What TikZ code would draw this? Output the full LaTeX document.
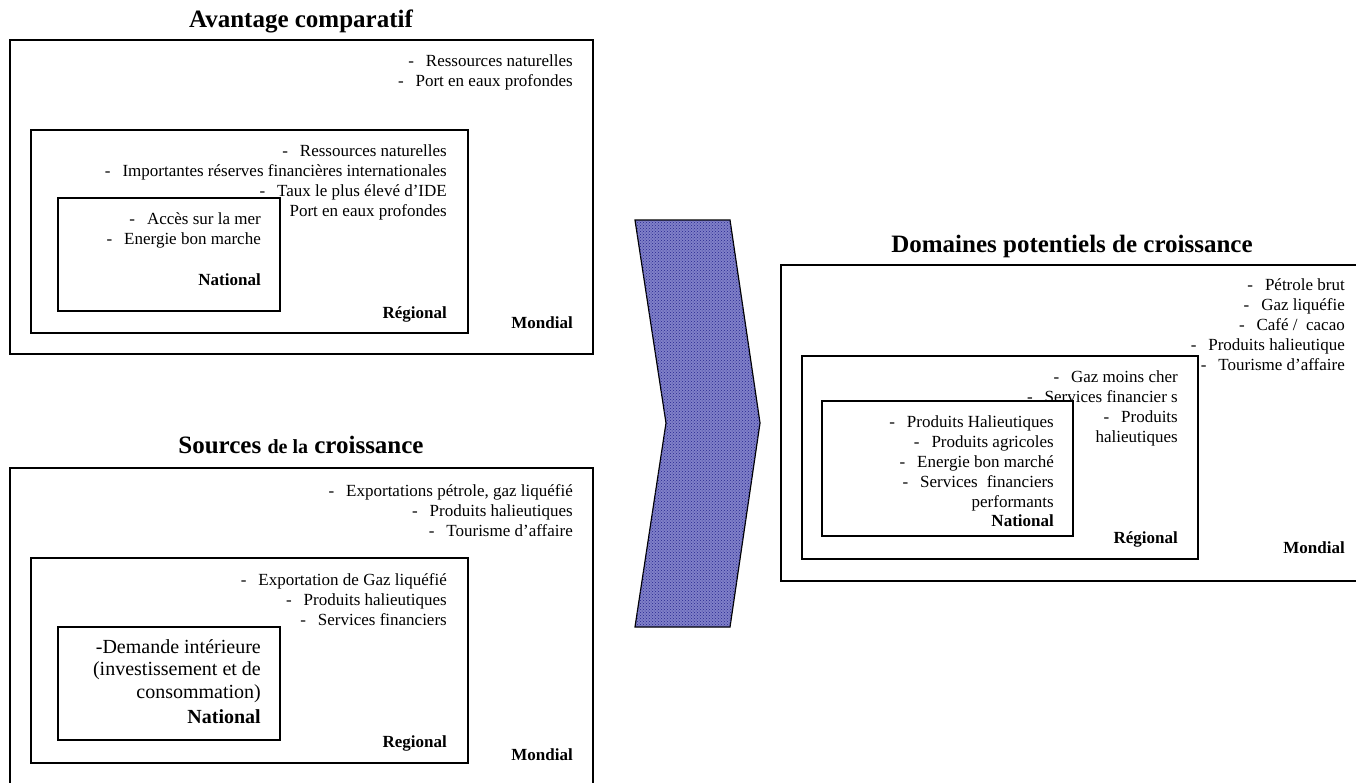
\documentclass[tikz,border=0pt]{standalone}
\usepackage{fontspec}
\setmainfont{Liberation Serif}
\usetikzlibrary{patterns}
\definecolor{chevronblue}{RGB}{128,128,200}
\definecolor{chevrondots}{RGB}{38,38,145}
\newcommand{\itm}{-\hspace{0.7em}}
\newcommand{\lst}[1]{\begin{tabular}[t]{@{}r@{}}#1\end{tabular}}

\begin{document}
\begin{tikzpicture}[x=1pt, y=-1pt,
	box/.style={draw, line width=1.5pt, fill=white},
	txt/.style={anchor=base east, inner sep=0pt, font=\fontsize{17}{20}\selectfont},
	lvl/.style={anchor=base east, inner sep=0pt, font=\fontsize{17}{20}\selectfont\bfseries},
	ttl/.style={anchor=base, inner sep=0pt, font=\fontsize{25}{30}\selectfont\bfseries}]
	\useasboundingbox (0,0) rectangle (1356,782);
	\clip (0,0) rectangle (1356,782);
	
	% Avantage comparatif
	\node[ttl] (ttlAvantage) at (301,27) {Avantage comparatif};
	\draw[box] (10,40) rectangle (593,354);
	\node[txt] (listM1) at (573,66) {\lst{\itm Ressources naturelles\\ \itm Port en eaux profondes}};
	\node[lvl] (mondial1) at (573,328) {Mondial};
	\draw[box] (31,130) rectangle (468,333);
	\node[txt] (listR1) at (447,156) {\lst{\itm Ressources naturelles\\ \itm Importantes réserves financières internationales\\ \itm Taux le plus élevé d’IDE\\ \itm Port en eaux profondes}};
	\node[lvl] (regional1) at (447,318) {Régional};
	\draw[box] (58,198) rectangle (280,311);
	\node[txt] (listN1) at (261,224) {\lst{\itm Accès sur la mer\\ \itm Energie bon marche}};
	\node[lvl] (national1) at (261,285) {National};
	
	% Sources de la croissance
	\node[ttl] (ttlSources) at (301,453) {Sources {\fontsize{20}{24}\selectfont de la} croissance};
	\draw[box] (10,468) rectangle (593,800);
	\node[txt] (listM2) at (573,496) {\lst{\itm Exportations pétrole, gaz liquéfié\\ \itm Produits halieutiques\\ \itm Tourisme d’affaire}};
	\node[lvl] (mondial2) at (573,760) {Mondial};
	\draw[box] (31,558) rectangle (468,763);
	\node[txt] (listR2) at (447,585) {\lst{\itm Exportation de Gaz liquéfié\\ \itm Produits halieutiques\\ \itm Services financiers}};
	\node[lvl] (regional2) at (447,747) {Regional};
	\draw[box] (58,627) rectangle (280,740);
	\node[txt, font=\fontsize{20}{22.5}\selectfont] (listN2) at (261,653) {\lst{-Demande intérieure\\ (investissement et de\\ consommation)}};
	\node[lvl, font=\fontsize{20}{24}\selectfont\bfseries] (national2) at (261,723) {National};
	
	\draw[line width=1.2pt, fill=chevronblue, postaction={pattern=crosshatch dots, pattern color=chevrondots}] (635,220) -- (730,220) -- (760,423) -- (730,627) -- (635,627) -- (666,423) -- cycle;
	
	% Domaines potentiels de croissance
	\node[ttl] (ttlDomaines) at (1072,252) {Domaines potentiels de croissance};
	\draw[box] (781,265) rectangle (1400,581);
	\node[txt] (listM3) at (1345,290) {\lst{\itm Pétrole brut\\ \itm Gaz liquéfie\\ \itm Café /\ \ cacao\\ \itm Produits halieutique\\ \itm Tourisme d’affaire}};
	\node[lvl] (mondial3) at (1345,553) {Mondial};
	\draw[box] (802,356) rectangle (1198,559);
	\node[txt] (listR3) at (1178,382) {\lst{\itm Gaz moins cher\\ \itm Services financier s\\ \itm Produits\\ halieutiques}};
	\node[lvl] (regional3) at (1178,543) {Régional};
	\draw[box] (822,401) rectangle (1073,536);
	\node[txt] (listN3) at (1054,427) {\lst{\itm Produits Halieutiques\\ \itm Produits agricoles\\ \itm Energie bon marché\\ \itm Services\hspace{9pt}financiers\\ performants}};
	\begin{scope}
		\clip (822,401) rectangle (1073,527);
		\node[lvl] (national3) at (1054,526) {National};
	\end{scope}
\end{tikzpicture}
\end{document}
